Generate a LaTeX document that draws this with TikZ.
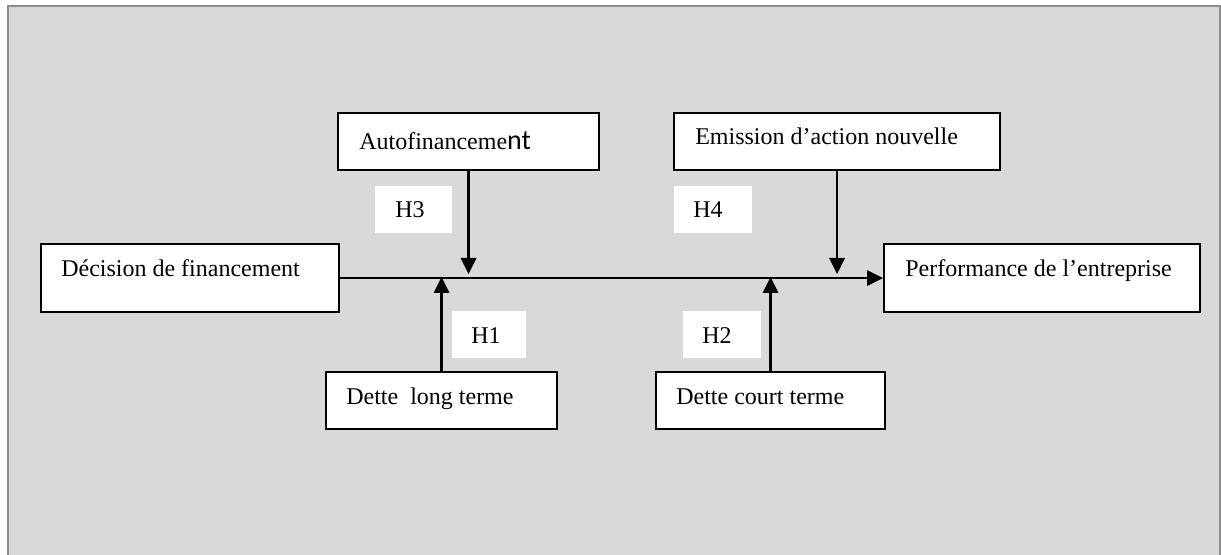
\documentclass[tikz,border=0pt]{standalone}
\usepackage{fontspec}
\setmainfont{Liberation Serif}
\newfontfamily\calibfont{Carlito}
\usetikzlibrary{arrows.meta}
\definecolor{bggray}{RGB}{217,217,217}
\definecolor{framegray}{RGB}{140,140,140}
\begin{document}
\begin{tikzpicture}[x=0.75pt,y=-0.75pt,
  box/.style={draw=black, line width=1.6pt, fill=white, inner sep=0pt, anchor=north west},
  lbl/.style={anchor=base west, inner sep=0pt, font=\fontsize{18}{21}\selectfont},
  hbox/.style={fill=white, inner sep=0pt, anchor=north west},
  arr/.style={line width=1.7pt, -{Triangle[length=12pt,width=11.5pt]}}]
\useasboundingbox (0,0) rectangle (1221,555);
\path[fill=bggray, draw=framegray, line width=1.5pt] (8,6) rectangle (1220,575);
% boxes
\node[box, minimum width=195.75pt, minimum height=42.75pt] (auto) at (337,112) {};
\node[box, minimum width=244.5pt, minimum height=42.75pt] (emi) at (673,112) {};
\node[box, minimum width=223.5pt, minimum height=51pt] (dec) at (40,243) {};
\node[box, minimum width=237pt, minimum height=51pt] (perf) at (883,243) {};
\node[box, minimum width=173.25pt, minimum height=42.75pt] (dlt) at (325,371) {};
\node[box, minimum width=171.75pt, minimum height=42.75pt] (dct) at (655,371) {};
% hypothesis label backgrounds
\node[hbox, minimum width=57.75pt, minimum height=35.25pt] (h3box) at (375,186) {};
\node[hbox, minimum width=58.5pt, minimum height=35.25pt] (h4box) at (674,186) {};
\node[hbox, minimum width=55.5pt, minimum height=35.25pt] (h1box) at (452,311) {};
\node[hbox, minimum width=58.5pt, minimum height=35.25pt] (h2box) at (683,311) {};
% texts
\node[lbl] (tauto) at (359,150) {Autofinanceme{\calibfont\fontsize{21}{24}\selectfont nt}};
\node[lbl] (temi) at (695,145) {Emission d’action nouvelle};
\node[lbl] (tdec) at (61,277) {Décision de financement};
\node[lbl] (tperf) at (905,277) {Performance de l’entreprise};
\node[lbl] (tdlt) at (346,405) {Dette\ \ long terme};
\node[lbl] (tdct) at (676,405) {Dette court terme};
\node[lbl] (th3) at (395,218) {H3};
\node[lbl] (th4) at (693,218) {H4};
\node[lbl] (th1) at (471,344) {H1};
\node[lbl] (th2) at (702,344) {H2};
% connectors
\coordinate (mainy) at (0,277);
\coordinate (tipy) at (0,274);
\draw[arr] (dec.east) -- (perf.west);
\draw[arr] (auto.south) -- (auto.south |- tipy);
\draw[arr] (emi.south) -- (emi.south |- tipy);
\draw[arr] (dlt.north) -- (dlt.north |- mainy);
\draw[arr] (dct.north) -- (dct.north |- mainy);
\end{tikzpicture}
\end{document}
